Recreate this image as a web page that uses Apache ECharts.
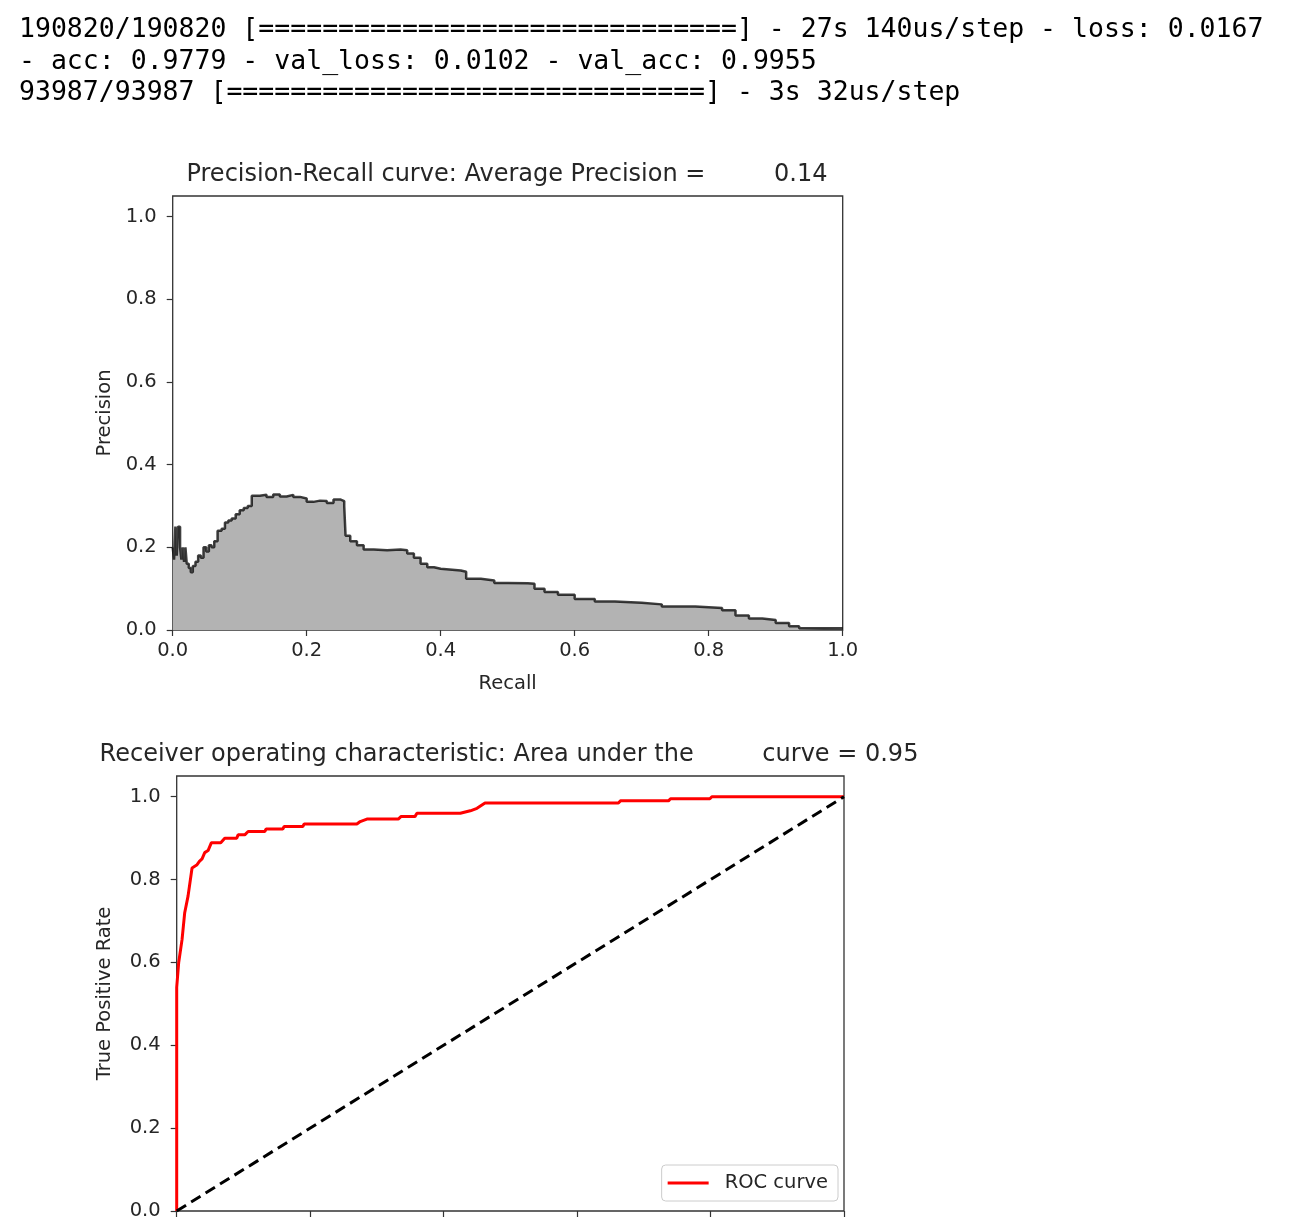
<!DOCTYPE html>
<html>
<head>
<meta charset="utf-8">
<script src="https://cdn.jsdelivr.net/npm/echarts@6/dist/echarts.min.js"></script>
<style>
html,body{margin:0;padding:0;background:#fff;}
#chart{width:1296px;height:1226px;}
</style>
</head>
<body>
<div id="chart"></div>
<script>
// ---- console text ----
const consoleLines = [
  "190820/190820 [==============================] - 27s 140us/step - loss: 0.0167",
  "- acc: 0.9779 - val_loss: 0.0102 - val_acc: 0.9955",
  "93987/93987 [==============================] - 3s 32us/step"
];
const prTitle = "Precision-Recall curve: Average Precision =         0.14";
const rocTitle = "Receiver operating characteristic: Area under the         curve = 0.95";
const tickValues = [0, 0.2, 0.4, 0.6, 0.8, 1.0];

// ---- Precision-Recall data (step, post) ----
const prRecall = [0, 0.002, 0.004, 0.006, 0.008, 0.011, 0.013, 0.015, 0.017, 0.019, 0.021, 0.024, 0.027, 0.03, 0.034, 0.038, 0.042, 0.046, 0.05, 0.054, 0.058, 0.062, 0.067, 0.073, 0.078, 0.083, 0.088, 0.094, 0.1, 0.106, 0.112, 0.118, 0.13, 0.14, 0.15, 0.16, 0.17, 0.18, 0.19, 0.2, 0.21, 0.22, 0.23, 0.24, 0.25, 0.256, 0.258, 0.265, 0.275, 0.285, 0.3, 0.32, 0.34, 0.35, 0.36, 0.37, 0.38, 0.39, 0.4, 0.43, 0.438, 0.46, 0.48, 0.5, 0.53, 0.54, 0.555, 0.575, 0.6, 0.63, 0.66, 0.7, 0.73, 0.78, 0.82, 0.84, 0.86, 0.88, 0.9, 0.92, 0.935, 1.0];
const prPrecision = [0.2, 0.17, 0.25, 0.18, 0.25, 0.2, 0.17, 0.2, 0.165, 0.2, 0.16, 0.15, 0.14, 0.155, 0.165, 0.18, 0.175, 0.2, 0.19, 0.205, 0.2, 0.215, 0.24, 0.245, 0.26, 0.265, 0.27, 0.28, 0.29, 0.295, 0.3, 0.325, 0.327, 0.322, 0.328, 0.323, 0.327, 0.322, 0.318, 0.31, 0.313, 0.312, 0.307, 0.316, 0.312, 0.3, 0.228, 0.215, 0.205, 0.195, 0.193, 0.195, 0.193, 0.185, 0.175, 0.16, 0.152, 0.148, 0.144, 0.141, 0.124, 0.12, 0.114, 0.113, 0.112, 0.1, 0.092, 0.085, 0.075, 0.069, 0.066, 0.062, 0.057, 0.053, 0.048, 0.035, 0.028, 0.024, 0.017, 0.009, 0.004, 0.003];

// ---- ROC data ----
const rocFpr = [0, 0, 0.003, 0.008, 0.012, 0.017, 0.023, 0.03, 0.034, 0.038, 0.042, 0.047, 0.052, 0.066, 0.072, 0.09, 0.092, 0.102, 0.107, 0.132, 0.134, 0.159, 0.161, 0.189, 0.191, 0.27, 0.275, 0.285, 0.332, 0.336, 0.357, 0.36, 0.425, 0.44, 0.45, 0.462, 0.662, 0.665, 0.737, 0.74, 0.799, 0.802, 1.0];
const rocTpr = [0, 0.54, 0.6, 0.655, 0.72, 0.76, 0.828, 0.835, 0.844, 0.85, 0.865, 0.87, 0.889, 0.889, 0.9, 0.9, 0.908, 0.908, 0.916, 0.916, 0.922, 0.922, 0.928, 0.928, 0.934, 0.934, 0.94, 0.946, 0.946, 0.952, 0.952, 0.96, 0.96, 0.966, 0.972, 0.985, 0.985, 0.99, 0.99, 0.995, 0.995, 1.0, 1.0];
const diagX = [0, 1];
const diagY = [0, 1];

const zip = (a, b) => a.map((v, i) => [v, b[i]]);

const chart = echarts.init(document.getElementById('chart'), null, {renderer: 'canvas'});
const FONT = 'DejaVu Sans';
const txt = '#262626';
const FS = 19.5;

function makeX(gridIndex, showLabels, name) {
  return {
    type: 'value', gridIndex, min: 0, max: 1, interval: 0.2,
    splitLine: {show: false},
    axisLine: {show: false},
    axisTick: {show: true, length: 6, lineStyle: {color: '#333', width: 1.2}, customValues: tickValues},
    axisLabel: {show: showLabels, color: txt, fontFamily: FONT, fontSize: FS, margin: 11,
      customValues: tickValues, formatter: v => v.toFixed(1)},
    name: name, nameLocation: 'middle', nameGap: 44,
    nameTextStyle: {color: txt, fontFamily: FONT, fontSize: FS}
  };
}
function makeY(gridIndex, name, gap) {
  return {
    type: 'value', gridIndex, min: 0, max: 1.05, interval: 0.2,
    splitLine: {show: false},
    axisLine: {show: false},
    axisTick: {show: true, length: 6, lineStyle: {color: '#333', width: 1.2}, customValues: tickValues},
    axisLabel: {color: txt, fontFamily: FONT, fontSize: FS, margin: 16,
      customValues: tickValues, formatter: v => v.toFixed(1)},
    name: name, nameLocation: 'middle', nameGap: gap,
    nameTextStyle: {color: txt, fontFamily: FONT, fontSize: FS}
  };
}

const option = {
  backgroundColor: '#fff',
  animation: false,
  graphic: consoleLines.map((s, i) => ({
    type: 'text', left: 19, top: 17 + i * 31.5,
    style: {text: s, font: '26.5px "DejaVu Sans Mono"', fill: '#000'}
  })),
  title: [
    {text: prTitle, left: 507, top: 163, textAlign: 'center', padding: 0,
     textStyle: {fontFamily: FONT, fontSize: 24, fontWeight: 'normal', color: txt}},
    {text: rocTitle, left: 509, top: 743, textAlign: 'center', padding: 0,
     textStyle: {fontFamily: FONT, fontSize: 24, fontWeight: 'normal', color: txt}}
  ],
  grid: [
    {left: 172.7, top: 196, width: 670, height: 434, show: true, borderColor: '#333', borderWidth: 1.3, backgroundColor: '#fff', containLabel: false},
    {left: 176.7, top: 776, width: 667.3, height: 435, show: true, borderColor: '#333', borderWidth: 1.3, backgroundColor: '#fff', containLabel: false}
  ],
  xAxis: [makeX(0, true, 'Recall'), makeX(1, false, '')],
  yAxis: [makeY(0, 'Precision', 58), makeY(1, 'True Positive Rate', 62)],
  legend: {
    data: ['ROC curve'], right: 458, top: 1165,
    icon: 'rect', itemWidth: 41, itemHeight: 3,
    padding: [8, 10, 8, 6],
    borderColor: '#ccc', borderWidth: 1, borderRadius: 4,
    backgroundColor: 'rgba(255,255,255,0.8)',
    textStyle: {fontFamily: FONT, fontSize: FS, color: txt, padding: [0, 0, 0, 11]}
  },
  series: [
    {
      name: 'Precision', type: 'line', xAxisIndex: 0, yAxisIndex: 0,
      data: zip(prRecall, prPrecision), step: 'end', showSymbol: false,
      lineStyle: {color: 'rgba(0,0,0,0.75)', width: 2.5},
      areaStyle: {color: '#b3b3b3', opacity: 1}
    },
    {
      name: 'ROC curve', type: 'line', xAxisIndex: 1, yAxisIndex: 1,
      data: zip(rocFpr, rocTpr), showSymbol: false,
      lineStyle: {color: '#ff0000', width: 3}, itemStyle: {color: '#ff0000'}
    },
    {
      name: 'chance', type: 'line', xAxisIndex: 1, yAxisIndex: 1,
      data: zip(diagX, diagY), showSymbol: false,
      lineStyle: {color: '#000', width: 3, type: [11, 6]}, itemStyle: {color: '#000'}
    }
  ]
};
chart.setOption(option);
</script>
</body>
</html>
